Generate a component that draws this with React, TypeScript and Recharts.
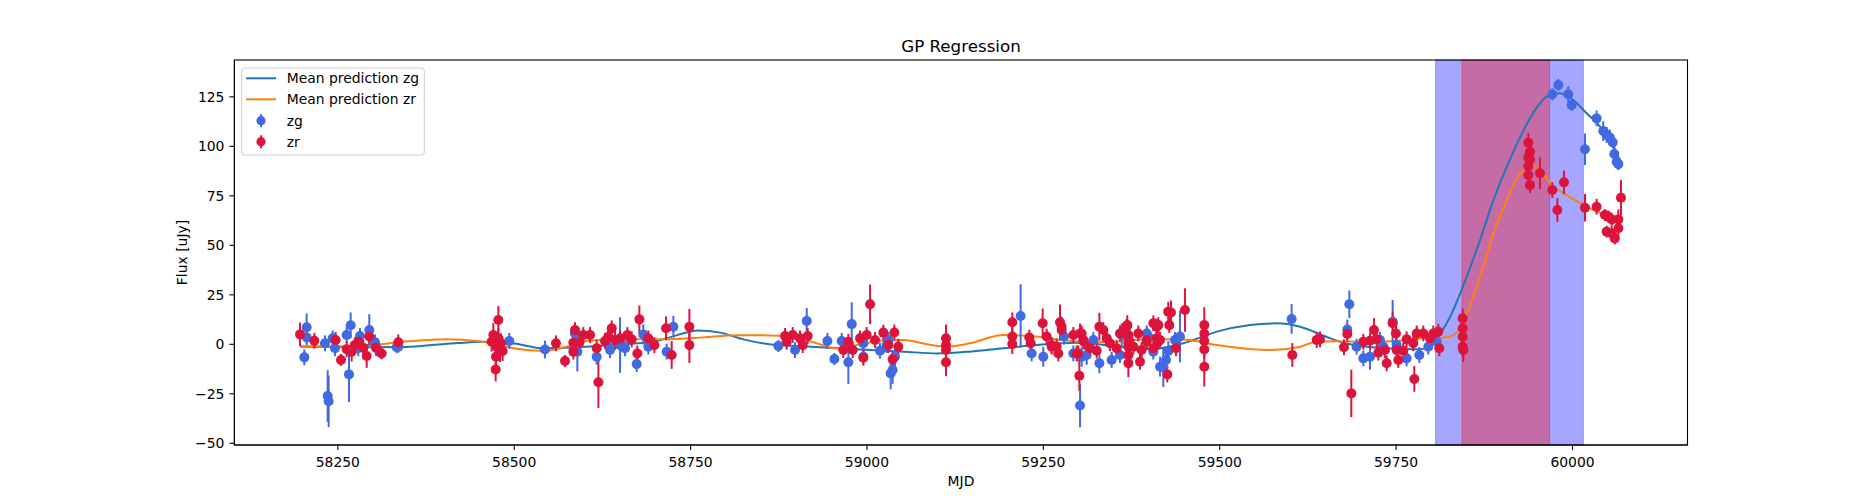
import { ComposedChart, Line, Scatter, ErrorBar, XAxis, YAxis, ReferenceArea } from "recharts";

// observations: [MJD, flux, 1-sigma error]
const zgPoints: [number, number, number][] = [
  [58202.5, -6.6, 4], [58205.8, 8.6, 7], [58205.8, 3.5, 4], [58231.8, 0.5, 4], [58235.6, -26.1, 13],
  [58237, -28.8, 13], [58242.7, 3, 4], [58246, -2, 4], [58262.5, 4.7, 4], [58268.2, 9.6, 6.5],
  [58265.8, -15.2, 14], [58279, -2, 4], [58281.4, 4.2, 4], [58294.6, 7.2, 8], [58302.7, 1, 4],
  [58305, -2, 4], [58333.4, -1.5, 3], [58335.7, -1.2, 3],
  [58493, 1.7, 4], [58543.6, -2.6, 4.5], [58586, 5.5, 5], [58589.5, -3.7, 10], [58616.9, -6.3, 4],
  [58635.8, -2.9, 4], [58650, -0.4, 14], [58657.1, -2, 4], [58673.6, -10, 4], [58683, 5, 5],
  [58690.1, -1.2, 4], [58716.1, -3.7, 4], [58725.6, 8.9, 5.5],
  [58874.4, -0.9, 3], [58898, -2.9, 4], [58914.6, 11.8, 6.5], [58943.9, 1.7, 4], [58953.8, -7.4, 3],
  [58964.2, 1.7, 4], [58973.6, -9.1, 11], [58978.4, 10.2, 11], [58994.9, 0.5, 4], [58995, -6.3, 4],
  [59018.5, -3.2, 4], [59027.9, -0.4, 4], [59030.3, 2.2, 4], [59033.6, -14.7, 8], [59036.4, -13, 7],
  [59039.7, -6.3, 5],
  [59217.8, 14.3, 16], [59233.4, -4.6, 4], [59249.9, -6.3, 5], [59279.3, 3.9, 4], [59292.5, -4.6, 4],
  [59302, -30.9, 11], [59304.3, -6.3, 5], [59311.4, -5.4, 5], [59320.9, 2.2, 4], [59329.4, -9.6, 5],
  [59346.8, -7.9, 4], [59358.6, -5.4, 4], [59361, 4.7, 6], [59396.5, 5.5, 4], [59398.8, 3.9, 4],
  [59405.8, -3.7, 4], [59415.4, -11.3, 5], [59420, -11.6, 10],
  [59423.8, -7.9, 4], [59427.1, -3.4, 5], [59436.5, 2.2, 4], [59443.6, 3.9, 13],
  [59601.9, 12.8, 7.5], [59680.8, 7.5, 5], [59683.7, 20.2, 7], [59694, -1.2, 4], [59703.5, -7.1, 4],
  [59713, -6.3, 6.5], [59727.1, 2.2, 4], [59731.9, -1.2, 4], [59745.1, 11.4, 11], [59750.7, -0.4, 4],
  [59764.9, -7.1, 4], [59782.9, -5.4, 4], [59795.6, -1.2, 4], [59807.5, 1.3, 4],
  [59971.4, 126.3, 3], [59979.9, 131, 3], [59994, 126.3, 4], [59998.8, 120.9, 3], [60017.7, 98.5, 8],
  [60034.2, 114.1, 4], [60043.6, 107.7, 5], [60048.4, 105.7, 4], [60053, 104.5, 4], [60057, 102, 3],
  [60059.3, 96.1, 4], [60062.6, 92.2, 3], [60065, 91, 3],
];

const zrPoints: [number, number, number][] = [
  [58196.4, 5, 6], [58216.7, 1.8, 4], [58246.9, 2.2, 4], [58254.5, -7.9, 3], [58262.5, -2.5, 4],
  [58269.6, -3.7, 5], [58274.3, -0.4, 4], [58279, 1.3, 4], [58286.1, -1.7, 4], [58290.9, -5.9, 6],
  [58294.6, 3.9, 4], [58304.1, -1.7, 4], [58312.1, -4.6, 3], [58335.7, 1, 4],
  [58468, 1.3, 5], [58470.4, 4.7, 6], [58472.8, 1.3, 5], [58475.1, -1.2, 6], [58477.5, 3, 5],
  [58479.9, -2.9, 6], [58474.2, -6.3, 5], [58481.3, 0.5, 5], [58477.5, 12.3, 7], [58473.7, -12.7, 6],
  [58483.6, -3.4, 5], [58559.2, 0.5, 4], [58572, -8.4, 3], [58583.8, 0.8, 4], [58586.2, 7.2, 4],
  [58583.8, -3.7, 4], [58592.3, 0.8, 4], [58598, 4.7, 4], [58607.5, 4.7, 4], [58616.9, -2, 4],
  [58619.3, -19.2, 13], [58628.7, 1.7, 4], [58633.4, 3.8, 4], [58638.2, 8.1, 4], [58642.9, 2.2, 5],
  [58650, 3, 4], [58660.4, 4.7, 4], [58666.5, 2.5, 4], [58674.5, -4.6, 4], [58677.4, 12.6, 7],
  [58690.1, 3, 4], [58698.6, -0.4, 4], [58715.2, 8.1, 6], [58723.2, -5.4, 7], [58748.3, 8.9, 9],
  [58748.3, -0.4, 9],
  [58883.9, 4.2, 4], [58886.2, 1.3, 4], [58894.7, 4.7, 4], [58905.1, 3, 4], [58908.9, -0.4, 4],
  [58916, 4.2, 4], [58966.5, -2.9, 4], [58973.6, 1.3, 4], [58979.8, -2.9, 4], [58990.2, 3, 4],
  [58994.8, -6.8, 4], [58999.6, 4.7, 4], [59004.4, 20.2, 10], [59011.4, 2.2, 4], [59023.2, 5.9, 4],
  [59030.3, -0.4, 4], [59036.4, -7.6, 4], [59038.8, 6, 4], [59044.4, -1.2, 4],
  [59112, 3, 7], [59112, -0.4, 5], [59112, -2.9, 5], [59112, -9.1, 7],
  [59206, 11.1, 5], [59206, 3.9, 5], [59206, 0.1, 5], [59230.1, 3.4, 4], [59232, 0.5, 4],
  [59249, 10.6, 7.5], [59254.7, 3.9, 4], [59261.7, -0.4, 4], [59261.8, -1.2, 4], [59268.8, -1.2, 4],
  [59271.2, -4.6, 4], [59273.6, 11.1, 9], [59275.9, 8.9, 5], [59276, 7.2, 5], [59292.5, 4.7, 4],
  [59297.2, -4.6, 4], [59299.5, -4.6, 4], [59301, -15.9, 7.5], [59302, 5.5, 5], [59304.3, 5.5, 4],
  [59306.6, 2.2, 4], [59307.6, 1.3, 4], [59316.1, -2, 4], [59325.6, -3.2, 4], [59329.4, 8.9, 7],
  [59335, 7.2, 4], [59339.8, 3, 4], [59344.4, 0.5, 4], [59353.9, -2, 4], [59358.6, 5.5, 4],
  [59368.1, 8.9, 4], [59369, 9.7, 5], [59370.5, 4.7, 4], [59370.5, 3, 4], [59370.5, 0.5, 4],
  [59370.5, -1.2, 4], [59370.5, -5.5, 4], [59370.5, -9.6, 7], [59377.6, -1.2, 4], [59384.6, 5.5, 4],
  [59387, -8.8, 4], [59389.3, -2.9, 4], [59396.4, 2.2, 4], [59396.5, 1.3, 4], [59405.9, 10.6, 4],
  [59405.9, -2, 4], [59410.6, 3, 4], [59410.5, 8.9, 4], [59412.9, 1.3, 4], [59413, 9.7, 4],
  [59415.3, 2.2, 4], [59425.7, -15.2, 4], [59427, 16.5, 5], [59428.5, 9.7, 4], [59430.9, 16.1, 6],
  [59438, -2, 4], [59450.7, 17.3, 11], [59478.1, 9.7, 9], [59478.1, 5.5, 5], [59478.1, 1.7, 5],
  [59478.1, -2.6, 5], [59478.1, -11.3, 10],
  [59602.9, -5.4, 6], [59637.4, 2.2, 4], [59642.1, 2.5, 4], [59676.1, -1.5, 4], [59680.8, 5.2, 4],
  [59686.5, -24.8, 12], [59703.5, 1.3, 4], [59712.9, 1.8, 4], [59718.6, 7.2, 6], [59722.4, 2.5, 4],
  [59724.8, -4.2, 4], [59734.2, -2.9, 4], [59736.6, -9.6, 4], [59745.1, 10.6, 6], [59749.8, 5.5, 4],
  [59750.7, -2.9, 4], [59753.1, -7.9, 4], [59760.2, -3.2, 4], [59764.9, 2.5, 4], [59774.4, 0.5, 4],
  [59775.8, -17.5, 6.5], [59779.1, 5.5, 4], [59788.6, 5.5, 4], [59798, 3, 4], [59802.7, 5.5, 4],
  [59809.8, 6.4, 4], [59811.2, -2, 4],
  [59844.3, 13.1, 5], [59844.3, 8.1, 5], [59844.3, 3.8, 5], [59844.3, -1.2, 5], [59845.2, -2.9, 6],
  [59937.4, 101.8, 5], [59939.7, 97.3, 4], [59937.4, 94.4, 4], [59939.7, 93.4, 4], [59937.4, 90, 4],
  [59937.4, 85.5, 4], [59939.7, 80.4, 4], [59954, 86.4, 8], [59971.4, 77.9, 4], [59978.5, 67.8, 6],
  [59987.9, 81.8, 6], [60017.7, 69, 7], [60034.2, 69.5, 4], [60046, 65.3, 3], [60050.8, 64.5, 3],
  [60055.5, 63.1, 3], [60065, 63.1, 5], [60048.4, 56.9, 3], [60055.5, 56, 4], [60060, 53.5, 3],
  [60065, 58.6, 4], [60068.7, 74, 9],
];

// GP mean predictions: [MJD, flux]
const zgMean: [number, number][] = [
  [58197, -1.2], [58250, -1.3], [58300, -1.5], [58340, -1.4], [58380, -0.5], [58420, 0.6],
  [58456, 1.3], [58500, 0.4], [58541, -2], [58575, -1.8], [58620, -0.8], [58674, 0.5],
  [58700, 1.5], [58730, 4.5], [58760, 7], [58792, 5.9], [58825, 2.5], [58862, 0], [58910, -1],
  [58957, -2], [59000, -2.8], [59052, -3.7], [59100, -4.6], [59146, -3.7], [59193, -2],
  [59240, -0.4], [59297, 0.8], [59350, -0.8], [59401, -2.5], [59448, 0.5], [59496, 6.4],
  [59543, 9.7], [59581, 10.6], [59614, 8.9], [59651, 3.8], [59675, 0.8], [59708, -1.2],
  [59755, -2.2], [59784, -2.5], [59800, 0], [59812, 5], [59831, 17.3], [59850, 34.1],
  [59869, 52.7], [59888, 72.9], [59907, 89.7], [59926, 104.8], [59944, 116.7], [59963, 125],
  [59982, 126.8], [60001, 123.4], [60020, 116.7], [60039, 109.9], [60058, 99.8], [60067, 93],
];

const zrMean: [number, number][] = [
  [58197, -1], [58250, -1], [58300, -0.3], [58350, 1.5], [58404, 2.6], [58450, 1.5],
  [58475, 0], [58499, -2], [58541, -3.4], [58574, -1.2], [58600, 1.5], [58640, 2.4],
  [58673, 2.5], [58721, 2.6], [58768, 3.5], [58815, 4.6], [58862, 4.5], [58910, 2.5],
  [58933, 0], [58957, -2], [58990, 0], [59020, 1.8], [59052, 2.2], [59085, 0], [59113, -1.2],
  [59146, 0.5], [59193, 4.7], [59240, 3.9], [59273, 2.3], [59320, 1], [59360, 1.5],
  [59401, 2.7], [59448, 2.4], [59496, -0.35], [59543, -2.4], [59573, -2.9], [59614, -1.2],
  [59637, 1.3], [59665, 1.6], [59708, 1.3], [59750, 1.5], [59784, 3], [59812, 3.2],
  [59831, 4.5], [59850, 15.7], [59869, 34], [59888, 56], [59907, 72.9], [59926, 86.4],
  [59940, 90], [59954, 88], [59973, 79.6], [59992, 75.4], [60020, 69.5], [60044, 65.3],
  [60058, 60.3],
];

// shaded MJD windows
const gSpan = [59806, 60015.3];
const rSpan = [59843.3, 59967.6];

const xDomain = [58103.4, 60163];
const yDomain = [-50.86, 143.6];
const xTicks = [58250, 58500, 58750, 59000, 59250, 59500, 59750, 60000];
const yTicks = [-50, -25, 0, 25, 50, 75, 100, 125];

const FONT = "DejaVu Sans, sans-serif";
const tickStyle = { fill: "#000", fontSize: 13.9, fontFamily: FONT };

const pointRows = (pts: [number, number, number][]) => pts.map(([x, y, err]) => ({ x, y, err }));
const lineRows = (pts: [number, number][]) => pts.map(([x, y]) => ({ x, y }));

const dot = (color: string) => (p: any) => <circle cx={p.cx} cy={p.cy} r={5} fill={color} />;

function LegendBox() {
  const rows = [
    { label: "Mean prediction zg", kind: "line", color: "#1f77b4", y: 78.3 },
    { label: "Mean prediction zr", kind: "line", color: "#ff7f0e", y: 99.3 },
    { label: "zg", kind: "point", color: "#4169e1", y: 120.7 },
    { label: "zr", kind: "point", color: "#dc143c", y: 141.7 },
  ];
  return (
    <g>
      <rect x={241.7} y={68} width={182.6} height={87} rx={3} fill="#fff" fillOpacity={0.8} stroke="#cccccc" />
      {rows.map((r) => (
        <g key={r.label}>
          {r.kind === "line" ? (
            <line x1={246} x2={276} y1={r.y} y2={r.y} stroke={r.color} strokeWidth={2} />
          ) : (
            <g>
              <line x1={261} x2={261} y1={r.y - 6.5} y2={r.y + 6.5} stroke={r.color} strokeWidth={2} />
              <circle cx={261} cy={r.y} r={4.6} fill={r.color} />
            </g>
          )}
          <text x={286.7} y={r.y} dominantBaseline="central" fontSize={13.9} fontFamily={FONT} fill="#000">
            {r.label}
          </text>
        </g>
      ))}
    </g>
  );
}

export default function App() {
  return (
    <div style={{ position: "absolute", left: 0, top: 0, width: 1875, height: 500, background: "#fff" }}>
      <ComposedChart
        width={1875}
        height={500}
        margin={{ top: 60, right: 187.5, bottom: 15, left: 174.4 }}
      >
        <XAxis
          type="number"
          dataKey="x"
          domain={xDomain}
          ticks={xTicks}
          allowDataOverflow
          height={40}
          tick={tickStyle}
          tickSize={5}
          tickMargin={7}
          axisLine={{ stroke: "#000", strokeWidth: 1.1 }}
          tickLine={{ stroke: "#000", strokeWidth: 1.1 }}
        />
        <YAxis
          type="number"
          dataKey="y"
          domain={yDomain}
          ticks={yTicks}
          allowDataOverflow
          width={60}
          tick={tickStyle}
          tickSize={5}
          tickMargin={5}
          tickFormatter={(v: number) => (v < 0 ? `\u2212${Math.abs(v)}` : `${v}`)}
          axisLine={{ stroke: "#000", strokeWidth: 1.1 }}
          tickLine={{ stroke: "#000", strokeWidth: 1.1 }}
        />
        <ReferenceArea x1={gSpan[0]} x2={gSpan[1]} fill="blue" fillOpacity={0.35} stroke="blue" strokeOpacity={0.35} />
        <ReferenceArea x1={rSpan[0]} x2={rSpan[1]} fill="red" fillOpacity={0.35} stroke="red" strokeOpacity={0.35} />
        <Line
          data={lineRows(zgMean)}
          dataKey="y"
          type="monotone"
          stroke="#1f77b4"
          strokeWidth={2}
          dot={false}
          activeDot={false}
          isAnimationActive={false}
        />
        <Line
          data={lineRows(zrMean)}
          dataKey="y"
          type="monotone"
          stroke="#ff7f0e"
          strokeWidth={2}
          dot={false}
          activeDot={false}
          isAnimationActive={false}
        />
        <Scatter data={pointRows(zgPoints)} dataKey="y" shape={dot("#4169e1")} isAnimationActive={false}>
          <ErrorBar dataKey="err" direction="y" width={0} stroke="#4169e1" strokeWidth={2} isAnimationActive={false} />
        </Scatter>
        <Scatter data={pointRows(zrPoints)} dataKey="y" shape={dot("#dc143c")} isAnimationActive={false}>
          <ErrorBar dataKey="err" direction="y" width={0} stroke="#dc143c" strokeWidth={2} isAnimationActive={false} />
        </Scatter>
      </ComposedChart>
      <svg width={1875} height={500} style={{ position: "absolute", left: 0, top: 0, pointerEvents: "none" }}>
        <rect x={234.4} y={60} width={1453.1} height={385} fill="none" stroke="#000" strokeWidth={1.1} />
        <text x={961} y={51.7} textAnchor="middle" fontSize={16.7} fontFamily={FONT} fill="#000">
          GP Regression
        </text>
        <text x={961} y={486} textAnchor="middle" fontSize={13.9} fontFamily={FONT} fill="#000">
          MJD
        </text>
        <text
          x={182}
          y={252.5}
          textAnchor="middle"
          dominantBaseline="central"
          transform="rotate(-90 182 252.5)"
          fontSize={13.9}
          fontFamily={FONT}
          fill="#000"
        >
          Flux [uJy]
        </text>
        <LegendBox />
      </svg>
    </div>
  );
}
